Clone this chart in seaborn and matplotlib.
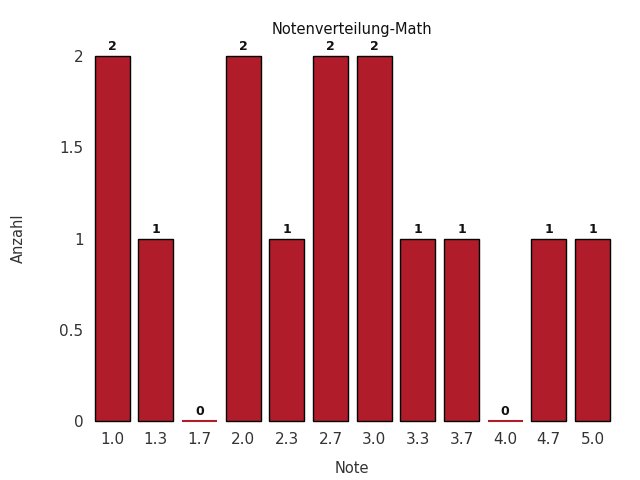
import pandas as pd
import seaborn as sns
import matplotlib.pyplot as plt

noten = ["1.0", "1.3", "1.7", "2.0", "2.3", "2.7", "3.0", "3.3", "3.7", "4.0", "4.7", "5.0"]
anzahl = [2, 1, 0, 2, 1, 2, 2, 1, 1, 0, 1, 1]
y_ticks = [0, 0.5, 1, 1.5, 2]
y_tick_labels = ["0", "0.5", "1", "1.5", "2"]

bar_color = "#B01C2A"

df = pd.DataFrame({"Note": noten, "Anzahl": anzahl})

sns.set_style("white")
plt.rcParams["font.family"] = ["DejaVu Sans"]

fig, ax = plt.subplots(figsize=(6.4, 4.8), dpi=100)
fig.subplots_adjust(left=0.148, right=0.953, bottom=0.123, top=0.883)

sns.barplot(data=df, x="Note", y="Anzahl", color=bar_color, saturation=1,
            edgecolor="black", linewidth=1, width=0.8, ax=ax)

# empty bars show as a thin red line on the baseline
for patch in ax.patches:
    patch.set_clip_on(False)
    if patch.get_height() == 0:
        patch.set_edgecolor(bar_color)
        patch.set_linewidth(1.5)

for container in ax.containers:
    ax.bar_label(container, fmt="%d", padding=2, fontsize=9, fontweight="bold",
                 color="#111111")

ax.set_ylim(0, 2)
ax.set_xlim(-0.4, len(noten) - 0.6)
ax.set_yticks(y_ticks, y_tick_labels)
ax.set_title("Notenverteilung-Math", fontsize=10.5, color="#111111", pad=16)
ax.set_xlabel("Note", fontsize=10.5, color="#333333", labelpad=10)
ax.set_ylabel("Anzahl", fontsize=10.5, color="#333333", labelpad=24)
ax.tick_params(axis="both", labelsize=11, colors="#333333", length=0, pad=8)
sns.despine(ax=ax, left=True, bottom=True)

plt.savefig("out.png")
